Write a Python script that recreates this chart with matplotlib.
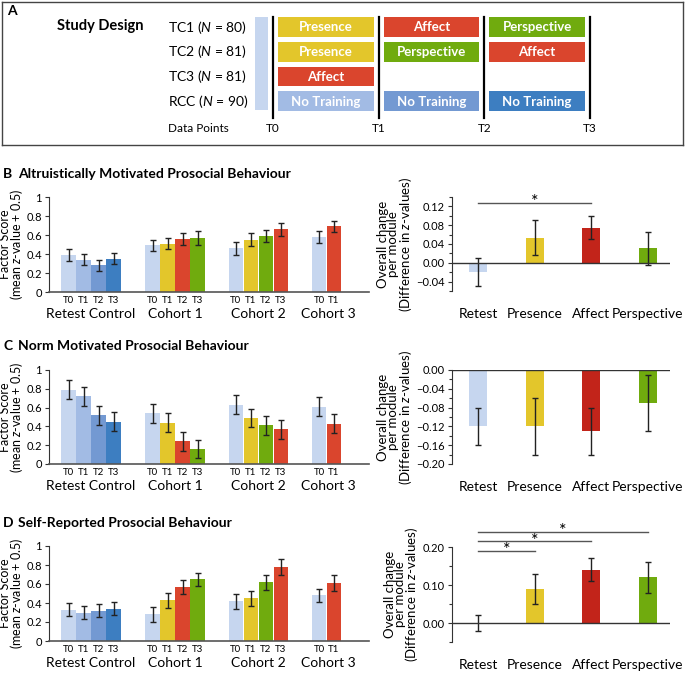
import matplotlib
matplotlib.use("Agg")
import matplotlib.pyplot as plt
import matplotlib.transforms as mtrans
from matplotlib.patches import Rectangle

plt.rcParams['font.family'] = ['Lato', 'DejaVu Sans']
plt.rcParams['mathtext.fontset'] = 'custom'
plt.rcParams['mathtext.it'] = 'Lato:italic'
plt.rcParams['mathtext.rm'] = 'Lato'

# ---- data ----
timepoints = ["T0", "T1", "T2", "T3"]
design_rows = ["TC1", "TC2", "TC3", "RCC"]
design_n = [80, 81, 81, 90]
design_modules = [["Presence", "Affect", "Perspective"],
                  ["Presence", "Perspective", "Affect"],
                  ["Affect"],
                  ["No Training", "No Training", "No Training"]]

groups = ["Retest Control", "Cohort 1", "Cohort 2", "Cohort 3"]
group_bars = [["T0", "T1", "T2", "T3"], ["T0", "T1", "T2", "T3"],
              ["T0", "T1", "T2", "T3"], ["T0", "T1"]]

alt_means = [[0.39, 0.34, 0.28, 0.35], [0.49, 0.51, 0.56, 0.57],
             [0.46, 0.55, 0.59, 0.66], [0.58, 0.69]]
alt_err = [[0.06, 0.06, 0.06, 0.06], [0.06, 0.06, 0.06, 0.07],
           [0.07, 0.07, 0.06, 0.07], [0.06, 0.06]]
norm_means = [[0.79, 0.72, 0.52, 0.45], [0.54, 0.44, 0.24, 0.16],
              [0.63, 0.49, 0.41, 0.37], [0.61, 0.43]]
norm_err = [[0.10, 0.10, 0.10, 0.10], [0.10, 0.10, 0.10, 0.10],
            [0.10, 0.10, 0.10, 0.10], [0.10, 0.10]]
self_means = [[0.33, 0.30, 0.32, 0.34], [0.28, 0.43, 0.57, 0.65],
              [0.42, 0.45, 0.62, 0.78], [0.48, 0.61]]
self_err = [[0.07, 0.07, 0.07, 0.07], [0.08, 0.08, 0.07, 0.07],
            [0.08, 0.08, 0.08, 0.08], [0.07, 0.08]]

modules = ["Retest", "Presence", "Affect", "Perspective"]
alt_change = [-0.02, 0.053, 0.075, 0.031]
alt_change_err = [0.03, 0.037, 0.025, 0.035]
norm_change = [-0.12, -0.12, -0.13, -0.07]
norm_change_err = [0.04, 0.06, 0.05, 0.06]
self_change = [0.0, 0.09, 0.14, 0.12]
self_change_err = [0.02, 0.04, 0.03, 0.04]
alt_sig = [(0, 2, 0.128)]
self_sig = [(0, 1, 0.19), (0, 2, 0.215), (0, 3, 0.24)]

# ---- colours ----
c_t0 = "#c6d6ef"
c_rc = ["#c6d6ef", "#a2bbe4", "#7399d2", "#3d7ec1"]
c_pres = "#e3c62b"
c_aff = "#da452d"
c_persp = "#70ab0e"
mod_col = {"Presence": c_pres, "Affect": c_aff, "Perspective": c_persp}
group_cols = [c_rc, [c_t0, c_pres, c_aff, c_persp],
              [c_t0, c_pres, c_persp, c_aff], [c_t0, c_aff]]
change_cols = [c_t0, c_pres, "#c2241a", c_persp]

W, H = 685, 674
fig = plt.figure(figsize=(W / 100, H / 100), dpi=100)


def rect(l, t, r, b):
    return [l / W, 1 - b / H, (r - l) / W, (b - t) / H]


def ftext(x, y, s, **kw):
    fig.text(x / W, 1 - y / H, s, **kw)


# ---- panel A: study design ----
axA = fig.add_axes(rect(2, 2, 683, 145))
sx, sy = 105.6, 24.7
axA.set_xlim((2 - 273) / sx, (683 - 273) / sx)
axA.set_ylim((145 - 27) / sy, (2 - 27) / sy)
axA.set_xticks([])
axA.set_yticks([])
for s in axA.spines.values():
    s.set_color("#444")
    s.set_linewidth(1)

axA.add_patch(Rectangle((-0.17, -0.4), 0.123, 3.76, color=c_t0, lw=0))
for k, tp in enumerate(timepoints):
    axA.plot([k, k], [-0.42, 3.68], color="black", lw=1.6)
    axA.text(k, 4.09, tp, ha="center", va="center", fontsize=8.5)
for r, row in enumerate(design_modules):
    for k, m in enumerate(row):
        col = c_rc[k + 1] if m == "No Training" else mod_col[m]
        axA.add_patch(Rectangle((k + 0.047, r - 0.4), 0.906, 0.8, color=col, lw=0))
        axA.text(k + 0.5, r + 0.02, m, ha="center", va="center", color="white",
                 fontsize=9.5, fontweight="bold")
    axA.text(-0.994, r, f"{design_rows[r]} ($\\mathit{{N}}$ = {design_n[r]})",
             ha="left", va="center", fontsize=10)
axA.text(-0.994, 4.09, "Data Points", ha="left", va="center", fontsize=8.5)
axA.text(-2.045, -0.04, "Study Design", ha="left", va="center", fontsize=10.5,
         fontweight="bold")
ftext(7, 11, "A", fontsize=10, fontweight="bold", va="center")


# ---- helpers ----
offsets = [0, 5.6, 11.15, 16.7]


def left_panel(box, means, errs):
    ax = fig.add_axes(rect(*box))
    xs, labels = [], []
    tr = mtrans.blended_transform_factory(ax.transData, ax.transAxes)
    for g in range(len(groups)):
        x = [offsets[g] + i for i in range(len(means[g]))]
        ax.bar(x, means[g], width=0.97, color=group_cols[g], lw=0)
        ax.errorbar(x, means[g], yerr=errs[g], fmt="none", ecolor="#222",
                    elinewidth=1, capsize=2.5, capthick=1)
        xs += x
        labels += group_bars[g]
        cx = (x[0] + x[-1]) / 2 + (0.15 if len(x) < 4 else 0)
        ax.text(cx, -0.235, groups[g], transform=tr, ha="center", va="center",
                fontsize=10)
    ax.set_xlim(-1.3, 20.03)
    ax.set_ylim(0, 1)
    ax.set_xticks(xs)
    ax.set_xticklabels(labels, fontsize=7)
    ax.tick_params(axis="x", length=0, pad=3)
    ax.set_yticks([0, 0.2, 0.4, 0.6, 0.8, 1.0])
    ax.set_yticklabels(["0", "0.2", "0.4", "0.6", "0.8", "1"], fontsize=8)
    ax.tick_params(axis="y", length=3, width=0.8, pad=2, color="#333")
    ax.spines["top"].set_visible(False)
    ax.spines["right"].set_visible(False)
    ax.spines["left"].set_color("#333")
    ax.spines["bottom"].set_color("#555")
    ax.spines["bottom"].set_linewidth(1.2)
    ax.set_ylabel("Factor Score\n(mean $\\mathit{z}$-value + 0.5)", fontsize=9,
                  linespacing=0.8, labelpad=1)
    return ax


def right_panel(box, vals, errs, ylim, major, minor, fmt, sig=()):
    ax = fig.add_axes(rect(*box))
    x = list(range(len(modules)))
    ax.bar(x, vals, width=0.32, color=change_cols, lw=0)
    ax.errorbar(x, vals, yerr=errs, fmt="none", ecolor="#222",
                elinewidth=1, capsize=2.5, capthick=1)
    ax.axhline(0, color="#333", lw=1)
    ax.set_xlim(-0.46, 3.39)
    ax.set_ylim(*ylim)
    ax.set_xticks(x)
    ax.set_xticklabels(modules, fontsize=10)
    ax.tick_params(axis="x", length=0, pad=12)
    ax.set_yticks(major)
    ax.set_yticklabels([fmt.format(v).replace("-", "\u2212") for v in major],
                       fontsize=8)
    ax.set_yticks(minor, minor=True)
    ax.tick_params(axis="y", which="major", length=3, width=0.8, pad=2, color="#333")
    ax.tick_params(axis="y", which="minor", length=2, width=0.8, color="#333")
    for s in ["top", "right", "bottom"]:
        ax.spines[s].set_visible(False)
    ax.spines["left"].set_color("#333")
    ax.set_ylabel("Overall change\nper module\n(Difference in $\\mathit{z}$-values)",
                  fontsize=9.5, linespacing=0.8, labelpad=2)
    span = ylim[1] - ylim[0]
    for a, b, y in sig:
        ax.plot([a, b], [y, y], color="#555", lw=1, clip_on=False)
        ax.text((a + b) / 2, y + 0.005 * span, "*", ha="center", va="center",
                fontsize=13, clip_on=False)
    return ax


# ---- panel B ----
ftext(3, 174, "B", fontsize=10, fontweight="bold", va="center")
ftext(18, 174, "Altruistically Motivated Prosocial Behaviour", fontsize=10,
      fontweight="bold", va="center")
left_panel((49, 197, 369, 292), alt_means, alt_err)
right_panel((452, 197, 670, 291), alt_change, alt_change_err, (-0.06, 0.14),
            [-0.04, 0.0, 0.04, 0.08, 0.12], [-0.06, -0.02, 0.02, 0.06, 0.10, 0.14],
            "{:.2f}", alt_sig)

# ---- panel C ----
ftext(3, 346, "C", fontsize=10, fontweight="bold", va="center")
ftext(18, 346, "Norm Motivated Prosocial Behaviour", fontsize=10,
      fontweight="bold", va="center")
left_panel((49, 370, 369, 464), norm_means, norm_err)
right_panel((452, 370, 670, 464), norm_change, norm_change_err, (-0.20, 0.0),
            [-0.20, -0.16, -0.12, -0.08, -0.04, 0.0],
            [-0.18, -0.14, -0.10, -0.06, -0.02], "{:.2f}")

# ---- panel D ----
ftext(3, 523, "D", fontsize=10, fontweight="bold", va="center")
ftext(18, 523, "Self-Reported Prosocial Behaviour", fontsize=10,
      fontweight="bold", va="center")
left_panel((49, 546, 369, 641), self_means, self_err)
right_panel((452, 547, 670, 642), self_change, self_change_err, (-0.05, 0.20),
            [0.0, 0.10, 0.20], [-0.05, 0.05, 0.15], "{:.2f}", self_sig)

fig.savefig("out.png", dpi=100)
